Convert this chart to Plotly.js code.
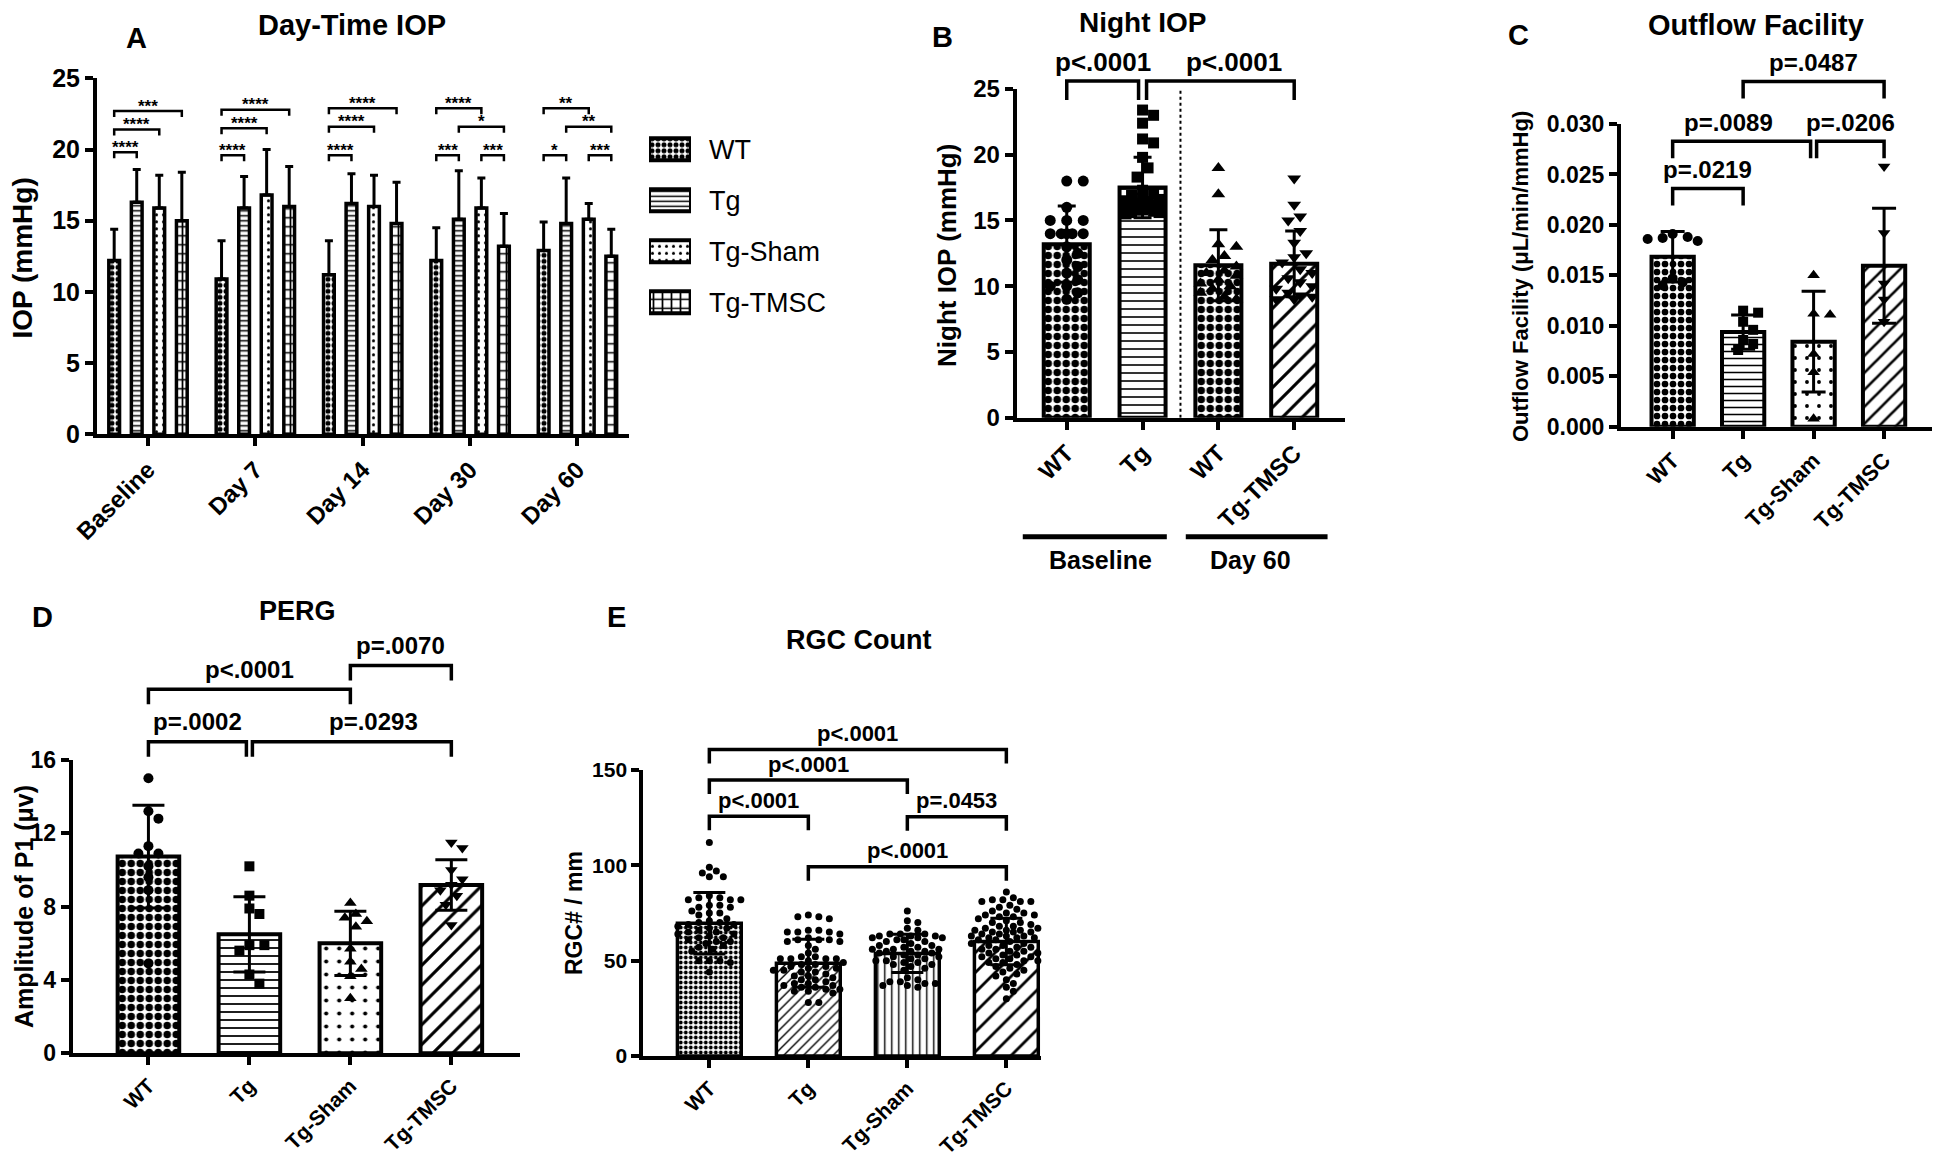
<!DOCTYPE html>
<html><head><meta charset="utf-8">
<script src="https://cdn.plot.ly/plotly-3.0.1.min.js"></script>
<style>html,body{margin:0;padding:0;background:#fff;}#chart{width:1937px;height:1157px;}</style>
</head><body><div id="chart"></div>
<script>
// ================= DATA =================
// Panel A - Day-time IOP (mean, upper SD)
const timepoints = ['Baseline', 'Day 7', 'Day 14', 'Day 30', 'Day 60'];
const groupsA = ['WT', 'Tg', 'Tg-Sham', 'Tg-TMSC'];
const iopWT = [12.2, 10.9, 11.2, 12.2, 12.9];
const iopWTsd = [2.2, 2.7, 2.4, 2.3, 2.0];
const iopTg = [16.3, 15.9, 16.2, 15.1, 14.8];
const iopTgsd = [2.3, 2.2, 2.1, 3.4, 3.2];
const iopSham = [15.9, 16.8, 16.0, 15.9, 15.1];
const iopShamsd = [2.3, 3.2, 2.2, 2.1, 1.1];
const iopTMSC = [15.0, 16.0, 14.8, 13.2, 12.5];
const iopTMSCsd = [3.4, 2.8, 2.9, 2.3, 1.9];
// significance: [timepoint, group1, group2, level, label]
const sigA = [
  [0, 0, 1, 19.8, '****'], [0, 0, 2, 21.4, '****'], [0, 0, 3, 22.7, '***'],
  [1, 0, 1, 19.6, '****'], [1, 0, 2, 21.5, '****'], [1, 0, 3, 22.8, '****'],
  [2, 0, 1, 19.6, '****'], [2, 0, 2, 21.6, '****'], [2, 0, 3, 22.9, '****'],
  [3, 0, 1, 19.6, '***'], [3, 0, 2, 22.9, '****'], [3, 1, 3, 21.6, '*'], [3, 2, 3, 19.6, '***'],
  [4, 0, 1, 19.6, '*'], [4, 0, 2, 22.9, '**'], [4, 1, 3, 21.6, '**'], [4, 2, 3, 19.6, '***']
];

// Panel B - Night IOP
const nightCats = ['WT', 'Tg', 'WT', 'Tg-TMSC'];
const nightMean = [13.2, 17.5, 11.6, 11.7];
const nightSD = [2.9, 2.3, 2.7, 2.5];
const nightWTbase = [18.0, 18.0, 16.0, 15.0, 15.0, 15.0, 14.0, 14.0, 14.0, 14.0, 14.0, 13.0, 12.5, 12.0, 11.5, 11.0, 10.5, 10.0, 10.0, 9.5, 9.0];
const nightTgbase = [23.4, 23.0, 22.4, 21.2, 20.9, 19.8, 19.0, 18.3, 17.3, 17.0, 16.9, 16.7, 16.6, 16.5, 16.4, 16.3, 16.2, 16.1, 16.0, 15.9, 15.8, 15.7, 15.6, 15.5, 15.6, 15.8, 16.0, 16.2];
const nightWT60 = [19.0, 17.0, 13.2, 13.0, 12.3, 12.0, 11.5, 11.2, 11.0, 10.8, 10.5, 10.2, 10.0, 9.8, 9.5, 9.2, 9.0];
const nightTMSC60 = [18.2, 16.2, 15.3, 15.0, 14.2, 13.3, 12.5, 12.2, 11.8, 11.3, 11.0, 10.6, 10.3, 10.0, 9.8, 9.5, 9.2, 9.0, 9.0, 9.3];
const sigB = [[0, 1, 25.6, 'p<.0001', 0], [1, 3, 25.6, 'p<.0001', 14]];
const periodLabels = ['Baseline', 'Day 60'];

// Panel C - Outflow facility
const groups = ['WT', 'Tg', 'Tg-Sham', 'Tg-TMSC'];
const outMean = [0.01685, 0.00938, 0.00843, 0.01596];
const outSD = [0.0025, 0.0017, 0.0050, 0.0057];
const outWT = [0.0191, 0.0188, 0.0187, 0.0186, 0.0184, 0.0147, 0.0143, 0.0140];
const outTg = [0.0115, 0.0113, 0.0104, 0.0096, 0.0086, 0.0082, 0.0076];
const outSham = [0.0150, 0.0112, 0.0111, 0.0072, 0.0054, 0.0008];
const outTMSC = [0.0258, 0.0192, 0.0142, 0.0126, 0.0104];
const sigC = [[0, 1, 0.0236, 'p=.0219', 0], [0, 2, 0.0283, 'p=.0089', -13], [2, 3, 0.0283, 'p=.0206', 0], [1, 3, 0.0342, 'p=.0487', 0]];

// Panel D - PERG
const pergMean = [10.73, 6.49, 6.0, 9.18];
const pergSD = [2.8, 2.05, 1.75, 1.38];
const pergWT = [15.0, 13.2, 12.8, 11.3, 10.9, 10.9, 10.2, 9.6, 8.9, 4.9];
const pergTg = [10.2, 8.6, 7.9, 7.6, 5.9, 5.9, 5.6, 4.3, 3.8];
const pergSham = [8.2, 7.6, 7.4, 7.2, 6.9, 5.7, 5.0, 4.6, 4.2, 3.0];
const pergTMSC = [11.5, 11.2, 10.0, 9.5, 9.2, 8.9, 8.6, 8.1, 7.0];
const sigD = [[0, 1, 17.0, 'p=.0002', 0], [1, 3, 17.0, 'p=.0293', 22], [0, 2, 19.86, 'p<.0001', 0], [2, 3, 21.15, 'p=.0070', 0]];

// Panel E - RGC count
const rgcMean = [69.6, 48.6, 53.8, 60.0];
const rgcSD = [16.1, 12.6, 10.0, 12.2];
const rgcWT = [112, 99, 97, 96, 94, 94, 84, 83, 83, 82, 82, 82, 79, 79, 78, 78, 76, 75, 75, 74, 72, 71, 70, 70, 69, 69, 68, 67, 67, 66, 65, 65, 64, 64, 63, 62, 62, 61, 60, 60, 59, 58, 57, 56, 55, 50, 50, 50, 49, 44];
const rgcTg = [74, 73, 73, 72, 66, 66, 65, 65, 65, 64, 62, 61, 61, 61, 60, 60, 58, 56, 54, 52, 52, 51, 51, 51, 51, 50, 49, 48, 48, 47, 47, 46, 46, 45, 45, 44, 44, 43, 42, 42, 41, 40, 40, 39, 38, 38, 37, 37, 36, 36, 35, 35, 34, 34, 33, 28, 28];
const rgcSham = [76, 71, 70, 67, 66, 64, 64, 64, 63, 63, 63, 62, 62, 62, 61, 61, 60, 60, 59, 58, 58, 57, 57, 56, 56, 56, 55, 55, 55, 54, 54, 53, 53, 52, 52, 51, 51, 50, 50, 49, 49, 48, 48, 47, 46, 45, 41, 40, 39, 39, 38, 38, 37, 37, 36];
const rgcTMSC = [86, 83, 82, 82, 81, 81, 81, 80, 79, 78, 77, 76, 75, 75, 74, 74, 73, 73, 72, 72, 71, 70, 70, 69, 68, 68, 67, 67, 66, 66, 66, 65, 65, 65, 64, 64, 64, 63, 63, 63, 62, 62, 62, 61, 61, 60, 60, 59, 59, 58, 58, 57, 57, 56, 56, 55, 55, 54, 54, 53, 53, 52, 52, 51, 51, 50, 50, 49, 49, 48, 47, 46, 45, 44, 43, 42, 40, 38, 36, 34, 30];
const sigE = [[0, 3, 160.8, 'p<.0001', 0], [0, 2, 144.7, 'p<.0001', 0], [0, 1, 125.8, 'p<.0001', 0], [2, 3, 125.5, 'p=.0453', 0], [1, 3, 99.3, 'p<.0001', 0]];

// ================= LAYOUT GEOMETRY =================
const W = 1937, H = 1157;
const FONT = 'Liberation Sans, Arial, Helvetica, sans-serif';
const P = {
  A: {id: '', x0: 97, x1: 629, yTop: 78.3, yBot: 434.3, xr: [-0.475, 4.48], yr: [0, 25]},
  B: {id: '2', x0: 1016.7, x1: 1345, yTop: 89, yBot: 417.7, xr: [-0.66, 3.67], yr: [0, 25]},
  C: {id: '3', x0: 1621, x1: 1932, yTop: 124, yBot: 426.7, xr: [-0.733, 3.68], yr: [0, 0.03]},
  D: {id: '4', x0: 72.7, x1: 520, yTop: 760, yBot: 1053.3, xr: [-0.75, 3.68], yr: [0, 16]},
  E: {id: '5', x0: 643.3, x1: 1041, yTop: 770, yBot: 1056, xr: [-0.667, 3.35], yr: [0, 150]}
};
const sx = p => (p.x1 - p.x0) / (p.xr[1] - p.xr[0]);
const sy = p => (p.yBot - p.yTop) / (p.yr[1] - p.yr[0]);
const yPx = (p, v) => p.yBot - (v - p.yr[0]) * sy(p);
const yPaper = (p, v, up) => 1 - (yPx(p, v) - (up || 0)) / H;

const traces = [], shapes = [], annotations = [];
const layout = {
  width: W, height: H, margin: {l: 0, r: 0, t: 0, b: 0},
  paper_bgcolor: '#fff', plot_bgcolor: 'rgba(0,0,0,0)', showlegend: false,
  barmode: 'overlay', font: {family: FONT, color: '#000'}
};
const bold = size => ({family: FONT, size: size, color: '#000', weight: 'bold'});

function txt(x, y, text, size, extra) {
  annotations.push(Object.assign({xref: 'paper', yref: 'paper', x: x / W, y: 1 - y / H, text: text,
    showarrow: false, xanchor: 'center', yanchor: 'middle', font: bold(size)}, extra || {}));
}

const axCommon = {showgrid: false, zeroline: false, showline: true, linewidth: 4, linecolor: '#000',
  ticks: 'outside', ticklen: 8, tickwidth: 4, tickcolor: '#000', fixedrange: true};
function addAxes(p, xcats, xfs, yticks, yfs, yfmt) {
  layout['xaxis' + p.id] = Object.assign({}, axCommon, {domain: [p.x0 / W, p.x1 / W], range: p.xr,
    anchor: 'y' + p.id, tickmode: 'array', tickvals: xcats.map((_, i) => i), ticktext: xcats,
    tickangle: -45, tickfont: bold(xfs)});
  layout['yaxis' + p.id] = Object.assign({}, axCommon, {domain: [1 - p.yBot / H, 1 - p.yTop / H],
    range: p.yr, anchor: 'x' + p.id, tickmode: 'array', tickvals: yticks, tickfont: bold(yfs),
    tickformat: yfmt || ''});
}

function swarm(values, p, diam, maxHalf) {
  const kx = sx(p), ky = sy(p);
  const placed = [];
  const offs = new Array(values.length).fill(0);
  const order = values.map((v, i) => i).sort((a, b) => values[b] - values[a]);
  const step = diam * 0.5;
  const nMax = Math.floor(maxHalf / step);
  for (const i of order) {
    const yy = values[i] * ky;
    let chosen = 0, bestD = -1;
    for (let k = 0; k <= 2 * nMax; k++) {
      const off = k === 0 ? 0 : (k % 2 ? 1 : -1) * Math.ceil(k / 2) * step;
      let dmin = Infinity;
      for (const q of placed) { const d = Math.hypot(q[0] - off, q[1] - yy); if (d < dmin) dmin = d; }
      if (dmin >= diam * 1.05) { chosen = off; break; }
      if (dmin > bestD) { bestD = dmin; chosen = off; }
    }
    placed.push([chosen, yy]);
    offs[i] = chosen / kx;
  }
  return offs;
}
function pointsTrace(p, center, vals, symbol, size, maxHalf) {
  const offs = swarm(vals, p, size, maxHalf);
  return {type: 'scatter', mode: 'markers', x: vals.map((v, i) => center + offs[i]), y: vals,
    xaxis: 'x' + p.id, yaxis: 'y' + p.id, marker: {symbol: symbol, size: size, color: '#000', line: {width: 0}},
    cliponaxis: false, hoverinfo: 'skip'};
}
function barTrace(p, means, width, pats, lw) {
  return {type: 'bar', x: means.map((_, i) => i), y: means, width: width, xaxis: 'x' + p.id, yaxis: 'y' + p.id,
    marker: {color: '#fff', line: {color: '#000', width: lw},
      pattern: {shape: pats.map(q => q[0]), size: pats.map(q => q[1]), solidity: pats.map(q => q[2]),
        fgcolor: '#000', bgcolor: '#fff', fillmode: 'replace'}},
    hoverinfo: 'skip'};
}
function errTrace(p, means, sd, capW) {
  return {type: 'scatter', mode: 'markers', x: means.map((_, i) => i), y: means, xaxis: 'x' + p.id, yaxis: 'y' + p.id,
    marker: {size: 1, color: 'rgba(0,0,0,0)'}, cliponaxis: false, hoverinfo: 'skip',
    error_y: {type: 'data', array: sd, symmetric: true, color: '#000', thickness: 3, width: capW}};
}
function addBrackets(p, defs, centerOf, opt) {
  const xref = 'x' + p.id;
  defs.forEach((d, i) => {
    let xa = centerOf(d, d[0 + opt.g0]), xb = centerOf(d, d[1 + opt.g0]);
    const lev = d[2 + opt.g0], label = d[3 + opt.g0], tshift = d[4 + opt.g0] || 0;
    defs.forEach((e, j) => {
      if (j === i || e[2 + opt.g0] !== lev || (opt.g0 && e[0] !== d[0])) return;
      if (e[0 + opt.g0] === d[1 + opt.g0]) xb -= opt.gap / sx(p);
      if (e[1 + opt.g0] === d[0 + opt.g0]) xa += opt.gap / sx(p);
    });
    const yl = yPaper(p, lev), yleg = yPaper(p, lev, -opt.leg);
    shapes.push({type: 'path', xref: xref, yref: 'paper',
      path: 'M' + xa + ',' + yleg + ' L' + xa + ',' + yl + ' L' + xb + ',' + yl + ' L' + xb + ',' + yleg,
      line: {color: '#000', width: opt.lw}});
    annotations.push({xref: xref, yref: 'paper', x: (xa + xb) / 2 + tshift / sx(p), y: yPaper(p, lev, opt.up),
      text: label, showarrow: false, xanchor: 'center', yanchor: 'middle', font: bold(opt.fs)});
  });
}

// ================= PANEL A =================
const SLOT = 0.21, BW = 0.1;
const aMeans = [iopWT, iopTg, iopSham, iopTMSC];
const aSD = [iopWTsd, iopTgsd, iopShamsd, iopTMSCsd];
const aPat = [['.', 6, 0.55], ['-', 5, 0.3], ['.', 7, 0.15], ['+', 9, 0.35]];
groupsA.forEach((g, k) => {
  traces.push({type: 'bar', name: g, x: timepoints.map((_, i) => i), y: aMeans[k], xaxis: 'x', yaxis: 'y',
    width: BW, offset: -2 * SLOT + k * SLOT + (SLOT - BW) / 2,
    marker: {color: '#fff', line: {color: '#000', width: 3.5},
      pattern: {shape: aPat[k][0], size: aPat[k][1], solidity: aPat[k][2], fgcolor: '#000', bgcolor: '#fff', fillmode: 'replace'}},
    error_y: {type: 'data', symmetric: false, array: aSD[k], arrayminus: aSD[k].map(() => 0), color: '#000', thickness: 3, width: 4},
    hoverinfo: 'skip'});
});
addAxes(P.A, timepoints, 24, [0, 5, 10, 15, 20, 25], 25);
addBrackets(P.A, sigA, (d, g) => d[0] - 2 * SLOT + g * SLOT + SLOT / 2, {g0: 1, gap: 0, leg: 6, lw: 2.5, fs: 17, up: 5});

// legend for A drawn as a small bar subplot
traces.push({type: 'bar', orientation: 'h', x: groupsA.map(() => 1), y: groupsA.map((_, i) => i), base: 0,
  width: 0.43, xaxis: 'x6', yaxis: 'y6', cliponaxis: false, hoverinfo: 'skip',
  marker: {color: '#fff', line: {color: '#000', width: 4},
    pattern: {shape: aPat.map(q => q[0]), size: aPat.map(q => q[1]), solidity: aPat.map(q => q[2]), fgcolor: '#000', bgcolor: '#fff', fillmode: 'replace'}}});
layout.xaxis6 = {domain: [649 / W, 691 / W], range: [0, 1], visible: false, anchor: 'y6', fixedrange: true};
layout.yaxis6 = {domain: [1 - 327.8 / H, 1 - 123.8 / H], range: [3.5, -0.5], anchor: 'x6', side: 'right',
  tickmode: 'array', tickvals: groupsA.map((_, i) => i), ticktext: groupsA, ticks: '', showline: false,
  showgrid: false, zeroline: false, ticklabelstandoff: 17, fixedrange: true,
  tickfont: {family: FONT, size: 27, color: '#000'}};

// ================= PANEL B =================
traces.push(barTrace(P.B, nightMean, 0.607, [['.', 9, 0.55], ['-', 8, 0.2], ['.', 9, 0.55], ['/', 14, 0.22]], 4));
traces.push(pointsTrace(P.B, 0, nightWTbase, 'circle', 11, 26));
traces.push(pointsTrace(P.B, 1, nightTgbase, 'square', 11, 20));
traces.push(pointsTrace(P.B, 2, nightWT60, 'triangle-up', 12, 22));
traces.push(pointsTrace(P.B, 3, nightTMSC60, 'triangle-down', 12, 22));
traces.push(errTrace(P.B, nightMean, nightSD, 9));
addAxes(P.B, nightCats, 24, [0, 5, 10, 15, 20, 25], 24);
addBrackets(P.B, sigB, (d, g) => g, {g0: 0, gap: 4, leg: 19, lw: 3.5, fs: 26, up: 19});
shapes.push({type: 'line', xref: 'x2', yref: 'y2', x0: 1.5, x1: 1.5, y0: 0, y1: 25, line: {color: '#000', width: 2, dash: 'dot'}});
const periodSpan = [[-0.58, 1.32], [1.57, 3.44]];
const periodLabelX = [0.45, 2.43];
periodLabels.forEach((lab, i) => {
  shapes.push({type: 'line', xref: 'x2', yref: 'paper', x0: periodSpan[i][0], x1: periodSpan[i][1],
    y0: 1 - 536.7 / H, y1: 1 - 536.7 / H, line: {color: '#000', width: 5}});
  annotations.push({xref: 'x2', yref: 'paper', x: periodLabelX[i], y: 1 - 560 / H,
    text: lab, showarrow: false, xanchor: 'center', yanchor: 'middle', font: bold(25)});
});

// ================= PANEL C =================
traces.push(barTrace(P.C, outMean, 0.6, [['.', 8, 0.55], ['-', 7, 0.22], ['.', 12, 0.08], ['/', 12, 0.22]], 4));
traces.push(pointsTrace(P.C, 0, outWT, 'circle', 10, 28));
traces.push(pointsTrace(P.C, 1, outTg, 'square', 10, 26));
traces.push(pointsTrace(P.C, 2, outSham, 'triangle-up', 11, 28));
traces.push(pointsTrace(P.C, 3, outTMSC, 'triangle-down', 11, 26));
traces.push(errTrace(P.C, outMean, outSD, 12));
addAxes(P.C, groups, 22, [0, 0.005, 0.01, 0.015, 0.02, 0.025, 0.03], 23, '.3f');
addBrackets(P.C, sigC, (d, g) => g, {g0: 0, gap: 3, leg: 17, lw: 3.5, fs: 24, up: 19});

// ================= PANEL D =================
traces.push(barTrace(P.D, pergMean, 0.61, [['.', 9, 0.55], ['-', 8, 0.22], ['.', 13, 0.08], ['/', 14, 0.22]], 4));
traces.push(pointsTrace(P.D, 0, pergWT, 'circle', 10, 30));
traces.push(pointsTrace(P.D, 1, pergTg, 'square', 10, 30));
traces.push(pointsTrace(P.D, 2, pergSham, 'triangle-up', 11, 32));
traces.push(pointsTrace(P.D, 3, pergTMSC, 'triangle-down', 11, 30));
traces.push(errTrace(P.D, pergMean, pergSD, 16));
addAxes(P.D, groups, 21, [0, 4, 8, 12, 16], 23);
addBrackets(P.D, sigD, (d, g) => g, {g0: 0, gap: 3, leg: 15, lw: 3.5, fs: 24, up: 20});

// ================= PANEL E =================
traces.push(barTrace(P.E, rgcMean, 0.645, [['.', 5, 0.45], ['/', 7, 0.2], ['|', 7, 0.2], ['/', 14, 0.2]], 3.5));
traces.push(pointsTrace(P.E, 0, rgcWT, 'circle', 7, 36));
traces.push(pointsTrace(P.E, 1, rgcTg, 'circle', 7, 36));
traces.push(pointsTrace(P.E, 2, rgcSham, 'circle', 7, 36));
traces.push(pointsTrace(P.E, 3, rgcTMSC, 'circle', 7, 36));
traces.push(errTrace(P.E, rgcMean, rgcSD, 16));
addAxes(P.E, groups, 21, [0, 50, 100, 150], 21);
addBrackets(P.E, sigE, (d, g) => g, {g0: 0, gap: 3, leg: 14, lw: 3.5, fs: 22, up: 16});

// ================= TEXT =================
txt(136, 38, 'A', 29); txt(942, 37, 'B', 29); txt(1518, 35, 'C', 29); txt(42, 617, 'D', 29); txt(616, 617, 'E', 29);
txt(352, 25, 'Day-Time IOP', 29);
txt(1143, 22, 'Night IOP', 28);
txt(1756, 25, 'Outflow Facility', 29);
txt(297, 611, 'PERG', 27);
txt(858, 640, 'RGC Count', 27);
txt(22.5, 258, 'IOP (mmHg)', 28, {textangle: -90});
txt(947, 256, 'Night IOP (mmHg)', 26, {textangle: -90});
txt(1521, 277, 'Outflow Facility (μL/min/mmHg)', 22, {textangle: -90});
txt(24, 907, 'Amplitude of P1 (μv)', 25, {textangle: -90});
txt(574, 913, 'RGC# / mm', 23, {textangle: -90});

layout.shapes = shapes;
layout.annotations = annotations;
traces.forEach(t => { t.showlegend = false; });
Plotly.newPlot('chart', traces, layout, {staticPlot: true, displayModeBar: false});
</script>
</body></html>
